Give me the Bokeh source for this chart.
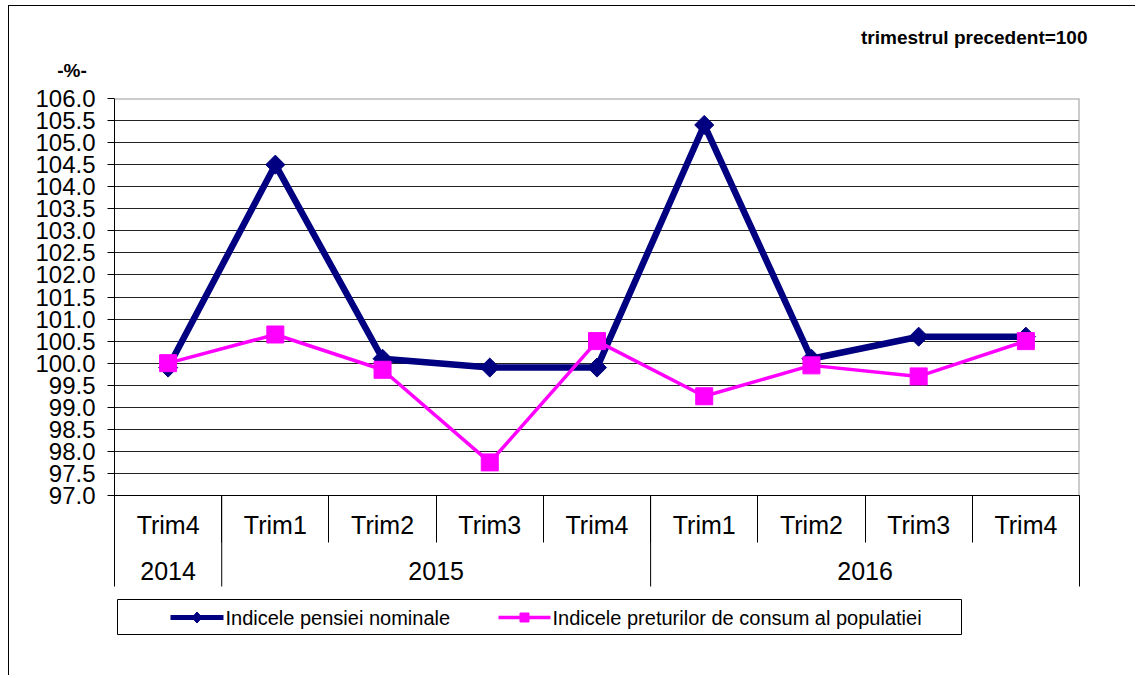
import numpy as np
from bokeh.plotting import figure
from bokeh.models import Range1d, FixedTicker, PrintfTickFormatter, ColumnDataSource, Span
from bokeh.core.properties import value
from bokeh.embed import file_html
from bokeh.resources import INLINE

# ---------------- data ----------------
years = ["2014", "2015", "2015", "2015", "2015", "2016", "2016", "2016", "2016"]
quarters = ["Trim4", "Trim1", "Trim2", "Trim3", "Trim4", "Trim1", "Trim2", "Trim3", "Trim4"]
pension = [99.9, 104.5, 100.1, 99.9, 99.9, 105.4, 100.1, 100.6, 100.6]
cpi = [100.0, 100.65, 99.85, 97.75, 100.5, 99.25, 99.95, 99.7, 100.5]
series_names = ["Indicele pensiei nominale", "Indicele preturilor de consum al populatiei"]
series_colors = ["#000080", "#FF00FF"]
y_ticks = [97.0, 97.5, 98.0, 98.5, 99.0, 99.5, 100.0, 100.5, 101.0, 101.5,
           102.0, 102.5, 103.0, 103.5, 104.0, 104.5, 105.0, 105.5, 106.0]
unit_label = "-%-"
base_note = "trimestrul precedent=100"

# ---------------- layout ----------------
FONT = "Liberation Sans"
MX, MY = 8, 5                # outer frame position on the page
W, H = 1127, 670
FRAME_L, FRAME_T, FW, FH = 114, 98, 965, 397   # plot frame on the page
FL, FT = FRAME_L - MX - 1, FRAME_T - MY - 1
Y0, Y1 = y_ticks[0], y_ticks[-1]
n = len(quarters)
xc = [i + 0.5 for i in range(n)]


def px_x(page_x):
    """data x at a page pixel column"""
    return (page_x - FRAME_L) * n / FW


def px_y(page_y):
    """data y at a page pixel row"""
    return Y0 + (FRAME_T + FH - page_y) * (Y1 - Y0) / FH


p = figure(width=W, height=H, x_range=Range1d(0, n), y_range=Range1d(Y0, Y1),
           output_backend="svg", toolbar_location=None,
           min_border_left=FL, min_border_top=FT,
           min_border_right=W - FL - FW, min_border_bottom=H - FT - FH)
p.styles = {"margin-left": f"{MX}px", "margin-top": f"{MY}px",
            "border-left": "1px solid black", "border-top": "1px solid black"}
p.background_fill_color = "white"
p.border_fill_color = "white"
p.outline_line_color = None

# y axis
p.yaxis.ticker = FixedTicker(ticks=y_ticks)
p.yaxis.formatter = PrintfTickFormatter(format="%.1f")
p.yaxis.major_tick_in = 0
p.yaxis.major_tick_out = 7
p.yaxis.minor_tick_line_color = None
p.yaxis.axis_line_color = "black"
p.yaxis.major_tick_line_color = "black"
p.yaxis.major_label_text_font = FONT
p.yaxis.major_label_text_font_size = "24px"
p.yaxis.major_label_text_color = "black"
p.yaxis.major_label_standoff = 12

# grid
p.xgrid.visible = False
p.ygrid.ticker = FixedTicker(ticks=y_ticks[:-1])
p.ygrid.grid_line_color = "#222222"
p.ygrid.grid_line_width = 1

# top / right frame borders (grey)
p.add_layout(Span(location=Y1, dimension="width", line_color="#9a9a9a", line_width=2))
p.add_layout(Span(location=n, dimension="height", line_color="#9a9a9a", line_width=2))

# x axis: quarter labels, separators as minor ticks
p.xaxis.ticker = FixedTicker(ticks=xc, minor_ticks=list(range(n + 1)))
p.xaxis.major_label_overrides = {x: q for x, q in zip(xc, quarters)}
p.xaxis.major_tick_line_color = None
p.xaxis.major_tick_in = 0
p.xaxis.major_tick_out = 0
p.xaxis.minor_tick_in = 0
p.xaxis.minor_tick_out = 47
p.xaxis.minor_tick_line_color = "black"
p.xaxis.axis_line_color = "black"
p.xaxis.major_label_text_font = FONT
p.xaxis.major_label_text_font_size = "25px"
p.xaxis.major_label_text_color = "black"
p.xaxis.major_label_standoff = -32

# year row
groups = []
for i, yv in enumerate(years):
    if groups and groups[-1][0] == yv:
        groups[-1][2] = i + 1
    else:
        groups.append([yv, i, i + 1])
bounds = [g[1] for g in groups] + [n]
p.segment(x0=bounds, x1=bounds, y0=[Y0] * len(bounds), y1=[px_y(586)] * len(bounds),
          line_color="black", line_width=1, level="overlay")
p.text(x=[(g[1] + g[2]) / 2 for g in groups], y=[px_y(570)] * len(groups),
       text=[g[0] for g in groups], text_font=value(FONT), text_font_size="25px",
       text_color="black", text_align="center", text_baseline="middle", level="overlay")

# series
src = ColumnDataSource(dict(x=xc, pension=pension, cpi=cpi))
p.line("x", "pension", source=src, line_color=series_colors[0], line_width=6.5)
p.scatter("x", "pension", source=src, marker="square", angle=np.pi / 4, size=13.5,
          fill_color=series_colors[0], line_color=series_colors[0])
p.line("x", "cpi", source=src, line_color=series_colors[1], line_width=3.5)
p.scatter("x", "cpi", source=src, marker="square", size=17,
          fill_color=series_colors[1], line_color=series_colors[1])

# legend (drawn outside the frame)
LEG_Y = 617
leg_glyph_x = [(170, 223), (498, 550)]
leg_lw = [5, 3.5]
leg_y = px_y(LEG_Y)
for (a, b), name, col, lw in zip(leg_glyph_x, series_names, series_colors, leg_lw):
    p.segment(x0=[px_x(a)], x1=[px_x(b)], y0=[leg_y], y1=[leg_y], line_color=col,
              line_width=lw, level="overlay")
    p.text(x=[px_x(b + 2)], y=[leg_y], text=[name], text_font=value(FONT),
           text_font_size="20px", text_color="black", text_align="left",
           text_baseline="middle", level="overlay")
# legend marker symbols
dm = sum(leg_glyph_x[0]) / 2
p.patch(x=[px_x(dm - 5), px_x(dm), px_x(dm + 5), px_x(dm)],
        y=[px_y(LEG_Y), px_y(LEG_Y - 5.5), px_y(LEG_Y), px_y(LEG_Y + 5.5)],
        fill_color=series_colors[0], line_color=series_colors[0], level="overlay")
sm = sum(leg_glyph_x[1]) / 2
p.quad(left=[px_x(sm - 4.5)], right=[px_x(sm + 4.5)], top=[px_y(LEG_Y - 4.5)],
       bottom=[px_y(LEG_Y + 4.5)], fill_color=series_colors[1], line_color=series_colors[1],
       level="overlay")
p.quad(left=[px_x(117)], right=[px_x(961)], top=[px_y(599)], bottom=[px_y(634)],
       fill_color=None, line_color="black", line_width=1, level="overlay")

# texts
p.text(x=[px_x(71.5)], y=[px_y(70)], text=[unit_label], text_align="center",
       text_baseline="middle", text_font=value(FONT), text_font_size="19px",
       text_font_style="bold", text_color="black", level="overlay")
p.text(x=[px_x(1087)], y=[px_y(37)], text=[base_note], text_align="right",
       text_baseline="alphabetic", text_font=value(FONT), text_font_size="19px",
       text_font_style="bold", text_color="black", level="overlay")

open("out.html", "w").write(file_html(p, INLINE))
